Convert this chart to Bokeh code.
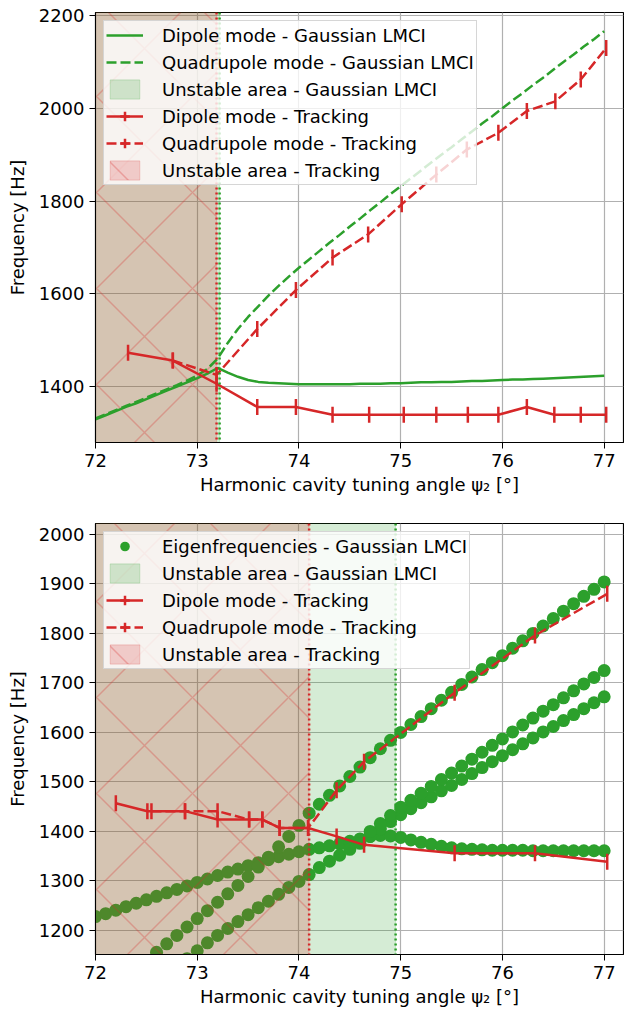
import numpy as np
from bokeh.plotting import figure
from bokeh.models import Range1d, FixedTicker, Span, Legend, LegendItem
from bokeh.layouts import column
from bokeh.embed import file_html
from bokeh.resources import INLINE

GREEN = "#2ca02c"
RED = "#d62728"
FONT = "DejaVu Sans"

# ---------------- data ----------------
psi_grid = [72.0, 72.1, 72.2, 72.3, 72.4, 72.5, 72.6, 72.7, 72.8, 72.9,
            73.0, 73.1, 73.2, 73.3, 73.4, 73.5, 73.6, 73.7, 73.8, 73.9,
            74.0, 74.1, 74.2, 74.3, 74.4, 74.5, 74.6, 74.7, 74.8, 74.9,
            75.0, 75.1, 75.2, 75.3, 75.4, 75.5, 75.6, 75.7, 75.8, 75.9,
            76.0, 76.1, 76.2, 76.3, 76.4, 76.5, 76.6, 76.7, 76.8, 76.9, 77.0]

# top panel - Gaussian LMCI
dipole_lmci = [1329, 1338, 1347, 1356, 1364, 1373, 1382, 1391, 1400, 1409,
               1418, 1428, 1440, 1430, 1421, 1414, 1410, 1408, 1407, 1406,
               1405, 1405, 1405, 1405, 1405, 1405, 1406, 1406, 1406, 1407,
               1407, 1408, 1409, 1409, 1410, 1410, 1411, 1412, 1412, 1413,
               1414, 1415, 1415, 1416, 1417, 1418, 1419, 1420, 1421, 1422, 1423]
quad_lmci = [1331, 1340, 1349, 1358, 1367, 1376, 1385, 1394, 1403, 1413,
             1424, 1438, 1460, 1494, 1524, 1550, 1573, 1596, 1617, 1637,
             1656, 1674, 1692, 1710, 1727, 1745, 1762, 1780, 1797, 1815,
             1832, 1849, 1866, 1883, 1900, 1916, 1933, 1950, 1967, 1983,
             2000, 2017, 2033, 2050, 2066, 2083, 2100, 2116, 2133, 2149, 2166]

# top panel - tracking
top_dip_x = [72.32, 72.76, 73.19, 73.59, 73.97, 74.33, 74.69, 75.03, 75.35,
             75.66, 75.96, 76.24, 76.51, 76.77, 77.02]
top_dip_f = [1473, 1456, 1406, 1356, 1356, 1339, 1339, 1339, 1339,
             1339, 1339, 1356, 1339, 1339, 1339]
top_quad_x = [72.76, 73.19, 73.59, 73.97, 74.33, 74.68, 75.01, 75.35, 75.65,
              75.96, 76.24, 76.52, 76.77, 77.02]
top_quad_f = [1456, 1425, 1524, 1608, 1678, 1728, 1793, 1857, 1911,
              1947, 1994, 2015, 2062, 2130]

# top panel - unstable areas (start, threshold)
top_unstable_lmci = [72.0, 73.22]
top_unstable_track = [72.0, 73.19]

# bottom panel - eigenfrequencies of the Gaussian LMCI (four branches)
nan = float("nan")
eig_a = [1228, 1234, 1241, 1248, 1255, 1262, 1269, 1276, 1283, 1290,
         1297, 1304, 1311, 1318, 1324, 1331, 1337, 1343, 1349, 1354,
         1359, 1364, 1367, 1371, 1375, 1380, 1385, 1390, 1392, 1391,
         1388, 1383, 1378, 1374, 1370, 1367, 1365, 1364, 1363, 1362,
         1362, 1362, 1362, 1361, 1361, 1361, 1361, 1361, 1361, 1361, 1361]
eig_b = [nan, nan, nan, nan, 1122, 1139, 1156, 1173, 1190, 1207,
         1224, 1240, 1257, 1274, 1291, 1309, 1328, 1348, 1369, 1390,
         1412, 1437, 1455, 1473, 1492, 1511, 1530, 1549, 1567, 1584,
         1600, 1616, 1632, 1648, 1665, 1681, 1697, 1712, 1727, 1741,
         1755, 1770, 1785, 1800, 1815, 1830, 1845, 1860, 1875, 1889, 1904]
eig_c = [nan, nan, nan, nan, nan, nan, nan, nan, 1127, 1143,
         1159, 1175, 1190, 1204, 1218, 1232, 1246, 1259, 1273, 1287,
         1299, 1313, 1327, 1340, 1352, 1364, 1376, 1390, 1405, 1420,
         1434, 1446, 1458, 1470, 1482, 1493, 1505, 1517, 1529, 1541,
         1553, 1565, 1577, 1589, 1601, 1612, 1624, 1636, 1648, 1660, 1672]
eig_d = [nan, nan, nan, nan, nan, nan, nan, nan, nan, nan,
         nan, nan, nan, nan, nan, nan, nan, nan, nan, nan,
         nan, nan, nan, nan, nan, nan, nan, 1400, 1416, 1432,
         1449, 1463, 1477, 1491, 1505, 1518, 1532, 1546, 1560, 1574,
         1587, 1601, 1615, 1629, 1643, 1656, 1670, 1684, 1698, 1711, 1725]

# bottom panel - tracking
bot_dip_x = [72.2, 72.51, 72.88, 73.2, 73.51, 73.64, 73.81, 74.09, 74.37,
             74.64, 75.53, 76.32, 77.03]
bot_dip_f = [1457, 1441, 1441, 1424, 1424, 1424, 1407, 1407, 1390,
             1373, 1356, 1356, 1339]
bot_quad_x = [72.55, 72.88, 73.2, 73.51, 73.64, 73.81, 74.09, 74.37, 74.64,
              75.53, 76.32, 77.03]
bot_quad_f = [1441, 1441, 1441, 1424, 1424, 1407, 1407, 1483, 1541,
              1680, 1796, 1880]

bot_unstable_lmci = [72.0, 74.95]
bot_unstable_track = [72.0, 74.1]

x_ticks = [72, 73, 74, 75, 76, 77]
top_y_ticks = [1400, 1600, 1800, 2000, 2200]
bot_y_ticks = [1200, 1300, 1400, 1500, 1600, 1700, 1800, 1900, 2000]

x_lim = (72.0, 77.19)
top_y_lim = (1279.3, 2206.5)
bot_y_lim = (1151.5, 2022.0)

X_LABEL = "Harmonic cavity tuning angle \u03c8\u2082 [\u00b0]"
Y_LABEL = "Frequency [Hz]"


def make_fig(height, y_lim, y_ticks, top_border, bottom_border):
    p = figure(width=624, height=height, output_backend="svg", toolbar_location=None,
               x_range=Range1d(*x_lim), y_range=Range1d(*y_lim),
               min_border_left=95, min_border_right=1,
               min_border_top=top_border, min_border_bottom=bottom_border)
    p.background_fill_color = "white"
    p.border_fill_color = "white"
    p.outline_line_color = "black"
    p.outline_line_width = 1.2
    p.outline_line_alpha = 1
    p.xaxis.ticker = FixedTicker(ticks=x_ticks)
    p.yaxis.ticker = FixedTicker(ticks=y_ticks)
    p.xaxis.axis_label = X_LABEL
    p.yaxis.axis_label = Y_LABEL
    for ax in (p.xaxis, p.yaxis):
        ax.axis_label_text_font = FONT
        ax.axis_label_text_font_size = "18px"
        ax.axis_label_text_font_style = "normal"
        ax.axis_label_text_color = "black"
        ax.major_label_text_font = FONT
        ax.major_label_text_font_size = "18px"
        ax.major_label_text_color = "black"
        ax.axis_line_color = "black"
        ax.major_tick_line_color = "black"
        ax.major_tick_out = 6
        ax.major_tick_in = 0
        ax.minor_tick_line_color = None
        ax.major_label_standoff = 5
    p.xaxis.axis_label_standoff = 4
    p.yaxis.axis_label_standoff = 8
    p.grid.grid_line_color = "#b0b0b0"
    p.grid.grid_line_width = 1.2
    return p


def unstable_areas(p, lmci, track, y_lim):
    g = p.quad(left=[lmci[0]], right=[lmci[1]], bottom=[y_lim[0]], top=[y_lim[1]],
               fill_color=GREEN, fill_alpha=0.2, line_color=GREEN, line_alpha=0.2)
    r = p.quad(left=[track[0]], right=[track[1]], bottom=[y_lim[0]], top=[y_lim[1]],
               fill_color=RED, fill_alpha=0.2, line_color=RED, line_alpha=0.2,
               hatch_pattern="diagonal_cross", hatch_color=RED, hatch_alpha=0.28,
               hatch_weight=1.5, hatch_scale=96)
    p.add_layout(Span(location=track[1], dimension="height", line_color=RED,
                      line_width=2.5, line_dash="2 3"))
    p.add_layout(Span(location=lmci[1], dimension="height", line_color=GREEN,
                      line_width=2.5, line_dash="2 3"))
    return g, r


def tracking(p, dx, df, qx, qf):
    dl = p.line(dx, df, line_color=RED, line_width=2.5)
    p.scatter(dx, df, marker="dash", angle=np.pi / 2, size=16,
              line_color=RED, line_width=2.5)
    ql = p.line(qx, qf, line_color=RED, line_width=2.5, line_dash="10 4")
    p.scatter(qx, qf, marker="dash", angle=np.pi / 2, size=16,
              line_color=RED, line_width=2.5)
    # legend-only proxy for the error-bar tick: zero size in the plot,
    # the legend sizes markers from its glyph box
    proxy = p.scatter(dx[:1], df[:1], marker="cross", size=0,
                      line_color=RED, line_width=2.5)
    return [dl, proxy], [ql, proxy]


def add_legend(p, items):
    leg = Legend(items=[LegendItem(label=l, renderers=r) for l, r in items],
                 location="top_left")
    leg.label_text_font = FONT
    leg.label_text_font_size = "18px"
    leg.label_text_color = "black"
    leg.background_fill_color = "white"
    leg.background_fill_alpha = 0.8
    leg.border_line_color = "#cccccc"
    leg.border_line_alpha = 0.8
    leg.margin = 8
    leg.padding = 2
    leg.spacing = 3
    leg.label_standoff = 19
    leg.glyph_width = 37
    leg.glyph_height = 24
    leg.label_height = 24
    p.add_layout(leg)


# ---------------- top figure ----------------
p1 = make_fig(505, top_y_lim, top_y_ticks, 12, 63)
g1, r1 = unstable_areas(p1, top_unstable_lmci, top_unstable_track, top_y_lim)
d_lmci = p1.line(psi_grid, dipole_lmci, line_color=GREEN, line_width=2.5)
q_lmci = p1.line(psi_grid, quad_lmci, line_color=GREEN, line_width=2.5, line_dash="10 4")
d1, q1 = tracking(p1, top_dip_x, top_dip_f, top_quad_x, top_quad_f)
add_legend(p1, [
    ("Dipole mode - Gaussian LMCI", [d_lmci]),
    ("Quadrupole mode - Gaussian LMCI", [q_lmci]),
    ("Unstable area - Gaussian LMCI", [g1]),
    ("Dipole mode - Tracking", d1),
    ("Quadrupole mode - Tracking", q1),
    ("Unstable area - Tracking", [r1]),
])

# ---------------- bottom figure ----------------
p2 = make_fig(508, bot_y_lim, bot_y_ticks, 18, 59)
eig = None
for branch in (eig_a, eig_b, eig_c, eig_d):
    r = p2.scatter(psi_grid, branch, marker="circle", size=13,
                   fill_color=GREEN, line_color=GREEN, line_width=0)
    if eig is None:
        eig = r
g2, r2 = unstable_areas(p2, bot_unstable_lmci, bot_unstable_track, bot_y_lim)
d2, q2 = tracking(p2, bot_dip_x, bot_dip_f, bot_quad_x, bot_quad_f)
add_legend(p2, [
    ("Eigenfrequencies - Gaussian LMCI", [eig]),
    ("Unstable area - Gaussian LMCI", [g2]),
    ("Dipole mode - Tracking", d2),
    ("Quadrupole mode - Tracking", q2),
    ("Unstable area - Tracking", [r2]),
])

layout = column(p1, p2, spacing=0)
open("out.html", "w").write(file_html(layout, INLINE))
